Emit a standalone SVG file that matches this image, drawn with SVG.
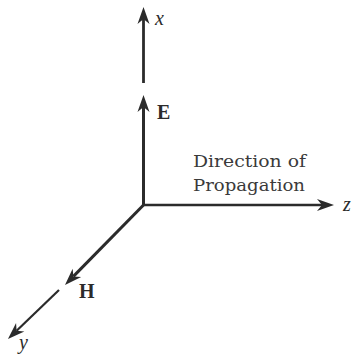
<svg xmlns="http://www.w3.org/2000/svg" width="353" height="355" viewBox="0 0 353 355">
  <style>
    .ax { stroke: #2b2b2b; fill: none; stroke-linecap: butt; }
    .lbl { font-family: "Liberation Serif", "DejaVu Serif", serif; fill: #2b2b2b; }
    .it { font-style: italic; font-size: 20px; }
    .bd { font-weight: bold; font-size: 20px; }
    .txt { font-family: "DejaVu Serif", "Liberation Serif", serif; font-size: 17.5px; fill: #3a3a3a; }
  </style>
  <defs>
    <marker id="ah" markerUnits="userSpaceOnUse" markerWidth="22" markerHeight="16" viewBox="-6 -8 22 16" refX="0" refY="0" orient="auto">
      <path d="M12,0 L-5,-6 L0,0 L-5,6 Z" fill="#2b2b2b"/>
    </marker>
  </defs>
  <rect width="353" height="355" fill="#ffffff"/>
  <g id="connectors">
    <line class="ax" x1="143.5" y1="83" x2="143.5" y2="19" stroke-width="2.8" marker-end="url(#ah)"/>
    <line class="ax" x1="143.5" y1="206" x2="143.5" y2="107" stroke-width="3" marker-end="url(#ah)"/>
    <line class="ax" x1="142" y1="205" x2="322" y2="205" stroke-width="2.5" marker-end="url(#ah)"/>
    <line class="ax" x1="144.5" y1="204" x2="73.4" y2="276.4" stroke-width="3" marker-end="url(#ah)"/>
    <line class="ax" x1="59" y1="290" x2="16.6" y2="330.7" stroke-width="2.2" marker-end="url(#ah)"/>
  </g>
  <g id="label-x"><text class="lbl it" x="155" y="25">x</text></g>
  <g id="label-E"><text class="lbl bd" x="157" y="119">E</text></g>
  <g id="label-z"><text class="lbl it" x="343" y="211">z</text></g>
  <g id="label-H"><text class="lbl bd" x="79" y="298">H</text></g>
  <g id="label-y"><text class="lbl it" x="19" y="349">y</text></g>
  <g id="label-direction">
    <text class="txt" x="193" y="167" textLength="113" lengthAdjust="spacingAndGlyphs">Direction of</text>
    <text class="txt" x="193" y="191" textLength="112" lengthAdjust="spacingAndGlyphs">Propagation</text>
  </g>
</svg>
